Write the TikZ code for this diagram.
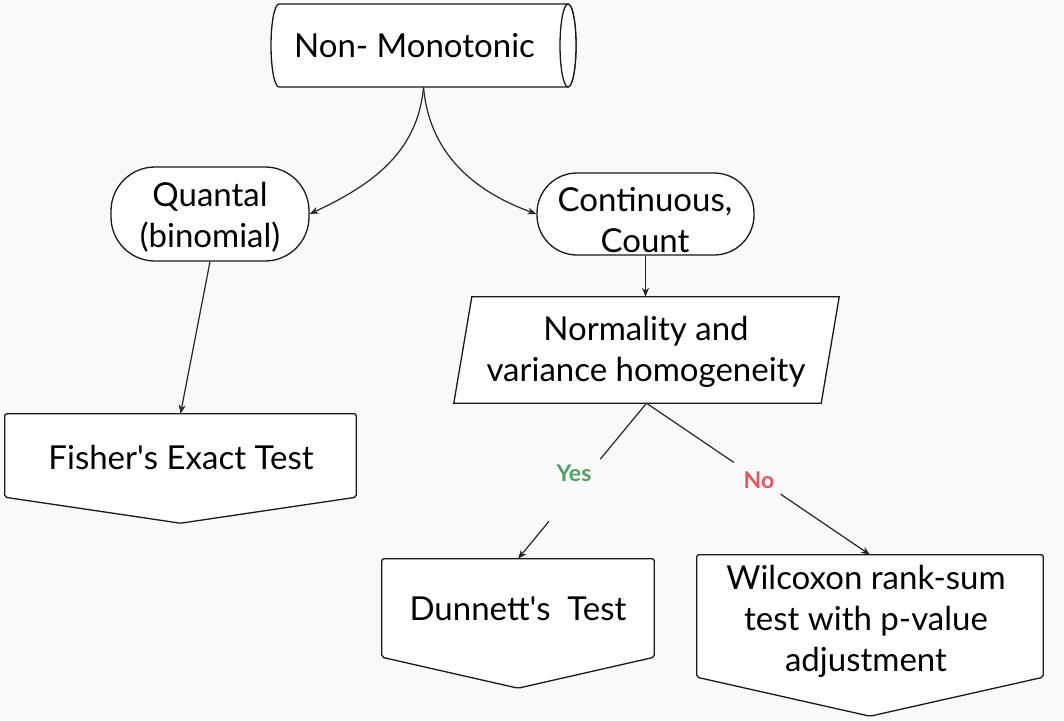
\documentclass[tikz,border=0pt]{standalone}
\usepackage{fontspec}
\setmainfont{Lato}
\usetikzlibrary{arrows.meta,calc,backgrounds}
\definecolor{bg}{RGB}{249,249,249}
\definecolor{yesc}{RGB}{76,163,95}
\definecolor{noc}{RGB}{232,85,94}
\begin{document}
\begin{tikzpicture}[x=1pt,y=-1pt,
  every node/.style={font=\fontsize{33}{41}\selectfont, align=center, inner sep=0pt},
  conn/.style={line width=1.2pt, draw=black!85},
  arr/.style={conn, -{Stealth[length=9pt,width=7pt]}},
  shapeline/.style={line width=1.3pt, draw=black!90, fill=white},
  lbl/.style={font=\fontsize{23}{26}\selectfont\bfseries}
]
\begin{scope}[on background layer]
\fill[bg] (0,0) rectangle (1064,720);
\end{scope}
\useasboundingbox (0,0) rectangle (1064,720);

% nodes (shape areas)
\node[minimum width=305pt, minimum height=83pt] (nm) at (423.5,45.5) {};
\node[shapeline, rounded corners=44pt, minimum width=198pt, minimum height=94pt] (q) at (210,214) {};
\node[shapeline, rounded corners=40pt, minimum width=217pt, minimum height=82pt] (c) at (645.5,214) {};
\node[minimum width=367pt, minimum height=106pt] (nv) at (646.5,350) {};
\node[minimum width=351pt, minimum height=83pt] (fi) at (180.5,455.5) {};
\node[minimum width=272pt, minimum height=98pt] (dn) at (518,608) {};
\node[minimum width=346pt, minimum height=122pt] (wi) at (870,618) {};

% texts
\node (nmt) at (414.5,45.5) {Non- Monotonic};
\node (qt) at (210,217) {Quantal\\(binomial)};
\node (ct) at (645,220) {Continuous,\\Count};
\node (nvt) at (646,352) {Normality and\\variance homogeneity};
\node (fit) at (181,457) {Fisher\textquotesingle s Exact Test};
\node (dnt) at (518,609) {Dunnett\textquotesingle s~~Test};
\node (wit) at (866,621) {Wilcoxon rank-sum\\test with p-value\\adjustment};
\node[lbl, text=yesc] (yes) at (574,473) {Yes};
\node[lbl, text=noc] (no) at (759,480) {No};

% shapes
\begin{scope}[on background layer]
\draw[shapeline] (568,4) -- (279,4) arc[start angle=90,end angle=270,x radius=8pt,y radius=41.5pt] -- (568,87) arc[start angle=-90,end angle=90,x radius=8pt,y radius=41.5pt];
\draw[shapeline] (568,45.5) ellipse[x radius=8pt,y radius=41.5pt];
\draw[shapeline] ($(nv.north west)+(9,0)$) -- ($(nv.north east)+(9,0)$) -- ($(nv.south east)+(-9,0)$) -- ($(nv.south west)+(-9,0)$) -- cycle;
\draw[shapeline, rounded corners=2pt] (fi.north west) -- (fi.north east) -- (fi.south east) -- ($(fi.south)+(0,26)$) -- (fi.south west) -- cycle;
\draw[shapeline, rounded corners=2pt] (dn.north west) -- (dn.north east) -- (dn.south east) -- ($(dn.south)+(0,31)$) -- (dn.south west) -- cycle;
\draw[shapeline, rounded corners=2pt] ($(wi.north west)+(0,-2)$) -- ($(wi.north east)+(0,-2)$) -- ($(wi.south east)+(0,-2)$) -- ($(wi.south)+(0,37)$) -- ($(wi.south west)+(0,-2)$) -- cycle;
\end{scope}

% connectors
\draw[arr] (nm.south) to[out=-95,in=25] (q.east);
\draw[arr] (nm.south) to[out=-85,in=160] (c.west);
\draw[arr] (c.south) -- (c.south |- nv.north);
\draw[arr] (q.south) -- (fi.north);
\draw[conn] (nv.south) -- ($(nv.south)!0.36!(dn.north)$);
\draw[arr] ($(nv.south)!0.76!(dn.north)$) -- (dn.north);
\draw[conn] (nv.south) -- ($(nv.south)!0.39!($(wi.north)+(0,-2)$)$);
\draw[arr] ($(nv.south)!0.6!($(wi.north)+(0,-2)$)$) -- ($(wi.north)+(0,-2)$);
\end{tikzpicture}
\end{document}
